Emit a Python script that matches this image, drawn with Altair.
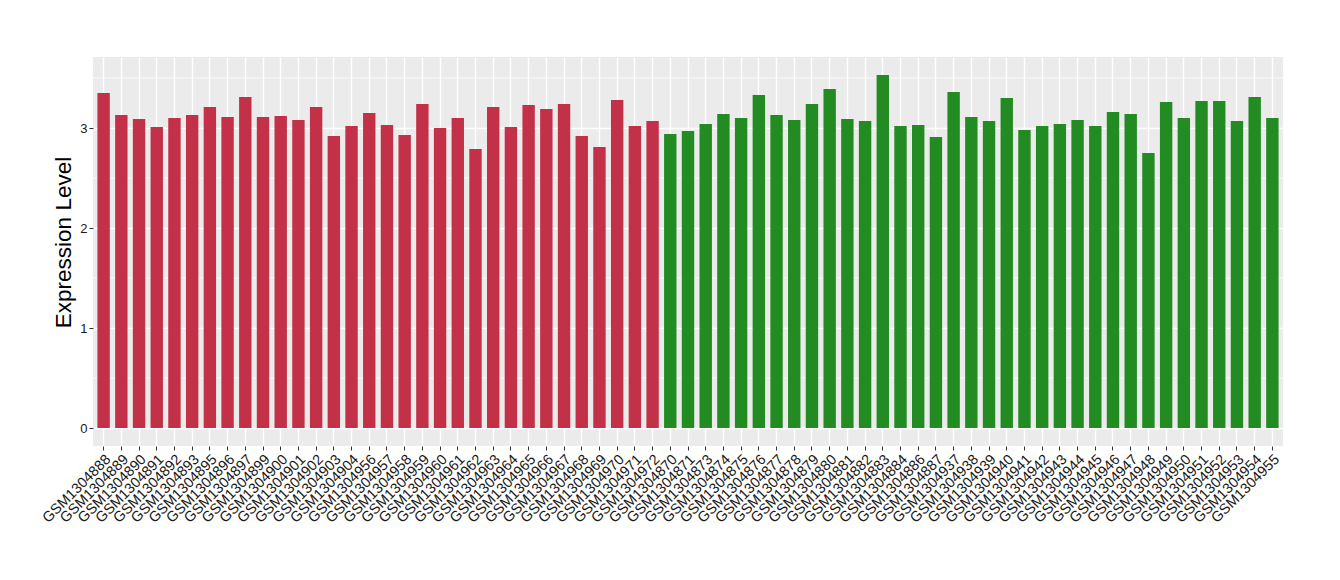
import altair as alt
import pandas as pd

red_ids = ["GSM1304888", "GSM1304889", "GSM1304890", "GSM1304891", "GSM1304892", "GSM1304893",
           "GSM1304895", "GSM1304896", "GSM1304897", "GSM1304899", "GSM1304900", "GSM1304901",
           "GSM1304902", "GSM1304903", "GSM1304904", "GSM1304956", "GSM1304957", "GSM1304958",
           "GSM1304959", "GSM1304960", "GSM1304961", "GSM1304962", "GSM1304963", "GSM1304964",
           "GSM1304965", "GSM1304966", "GSM1304967", "GSM1304968", "GSM1304969", "GSM1304970",
           "GSM1304971", "GSM1304972"]
red_vals = [3.35, 3.13, 3.09, 3.01, 3.10, 3.13, 3.21, 3.11, 3.31, 3.11, 3.12, 3.08,
            3.21, 2.92, 3.02, 3.15, 3.03, 2.93, 3.24, 3.00, 3.10, 2.79, 3.21, 3.01,
            3.23, 3.19, 3.24, 2.92, 2.81, 3.28, 3.02, 3.07]

green_ids = ["GSM1304870", "GSM1304871", "GSM1304873", "GSM1304874", "GSM1304875", "GSM1304876",
             "GSM1304877", "GSM1304878", "GSM1304879", "GSM1304880", "GSM1304881", "GSM1304882",
             "GSM1304883", "GSM1304884", "GSM1304886", "GSM1304887", "GSM1304937", "GSM1304938",
             "GSM1304939", "GSM1304940", "GSM1304941", "GSM1304942", "GSM1304943", "GSM1304944",
             "GSM1304945", "GSM1304946", "GSM1304947", "GSM1304948", "GSM1304949", "GSM1304950",
             "GSM1304951", "GSM1304952", "GSM1304953", "GSM1304954", "GSM1304955"]
green_vals = [2.94, 2.97, 3.04, 3.14, 3.10, 3.33, 3.13, 3.08, 3.24, 3.39, 3.09, 3.07,
              3.53, 3.02, 3.03, 2.91, 3.36, 3.11, 3.07, 3.30, 2.98, 3.02, 3.04, 3.08,
              3.02, 3.16, 3.14, 2.75, 3.26, 3.10, 3.27, 3.27, 3.07, 3.31, 3.10]

group_colors = ["#C33149", "#228B22"]
minor_ticks = [0.5, 1.5, 2.5, 3.5]

ids = red_ids + green_ids
df = pd.DataFrame({
    "sample": ids,
    "value": red_vals + green_vals,
    "group": ["A"] * len(red_ids) + ["B"] * len(green_ids),
})
minor_df = pd.DataFrame({"y": minor_ticks})

FONT = "Liberation Sans"
y_scale = alt.Scale(domain=[-0.18, 3.71], nice=False, zero=False)
x_scale = alt.Scale(domain=ids, paddingInner=0.3, paddingOuter=0.25)

minor = alt.Chart(minor_df).mark_rule(color="white", strokeWidth=0.7).encode(
    y=alt.Y("y:Q", scale=y_scale)
)

bars = alt.Chart(df).mark_bar().encode(
    x=alt.X("sample:N", scale=x_scale, sort=ids,
            axis=alt.Axis(title=None, labelAngle=-45, labelAlign="right", labelBaseline="top",
                          labelFontSize=14.5, labelColor="#1a1a1a", labelFont=FONT,
                          labelPadding=2, tickSize=4, tickColor="#333333", tickWidth=1,
                          domain=False, grid=True, gridColor="white", gridWidth=1.4,
                          bandPosition=0.5, labelOverlap=False)),
    y=alt.Y("value:Q", scale=y_scale,
            axis=alt.Axis(title="Expression Level", values=[0, 1, 2, 3], format="d",
                          labelFontSize=13, labelColor="#1a1a1a", labelFont=FONT,
                          labelPadding=2, tickSize=4, tickColor="#333333", tickWidth=1,
                          domain=False, grid=True, gridColor="white", gridWidth=1.4,
                          titleFontSize=22.5, titleFontWeight="normal", titleFont=FONT,
                          titleColor="black", titlePadding=4, titleY=185)),
    y2=alt.datum(0),
    color=alt.Color("group:N", scale=alt.Scale(domain=["A", "B"], range=group_colors), legend=None),
)

chart = alt.layer(minor, bars).properties(
    width=1190, height=389,
    autosize=alt.AutoSizeParams(type="none"),
    padding={"left": 85, "top": 49, "right": 40, "bottom": 100},
    background="white",
).configure_view(fill="#EBEBEB", stroke=None)

chart.save("out.html", embed_options={"renderer": "svg", "actions": False})
